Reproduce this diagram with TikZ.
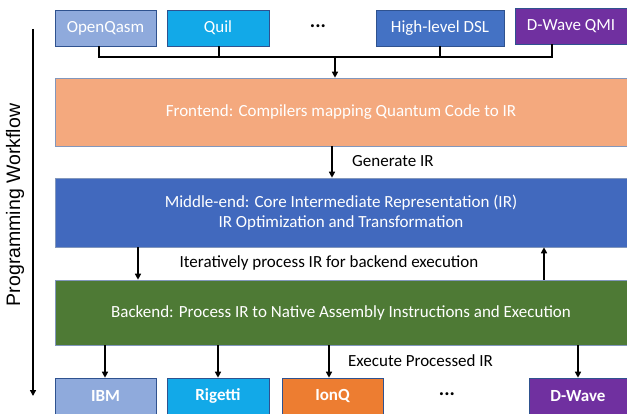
\documentclass[tikz,border=0pt]{standalone}
\usepackage{fontspec}
\setmainfont{Carlito}
\newfontfamily\wfont{Liberation Sans}
\usetikzlibrary{arrows.meta,calc}
\definecolor{cOQ}{HTML}{8FAADC}
\definecolor{cQuil}{HTML}{12A9E8}
\definecolor{cDSL}{HTML}{4472C4}
\definecolor{cDW}{HTML}{7030A0}
\definecolor{cFE}{HTML}{F4A97E}
\definecolor{cME}{HTML}{4169BE}
\definecolor{cBE}{HTML}{4E7A35}
\definecolor{cIonQ}{HTML}{ED7D31}
\definecolor{cEdge}{HTML}{2F528F}
\begin{document}
\begin{tikzpicture}[x=1pt,y=-1pt,
  box/.style={draw=cEdge,line width=0.6pt,text=white,font=\fontsize{17}{20}\selectfont,inner sep=0pt,minimum height=36pt},
  bbox/.style={box,font=\fontsize{17}{20}\selectfont\bfseries},
  big/.style={draw=cEdge!60,line width=0.6pt,text=white,font=\fontsize{17}{20}\selectfont,inner sep=0pt,align=center},
  lbl/.style={font=\fontsize{17}{20}\selectfont,text=black,inner sep=0pt},
  dots/.style={font=\fontsize{20}{20}\selectfont\bfseries,text=black,inner sep=0pt},
  wire/.style={line width=1.5pt,black},
  arr/.style={line width=1.5pt,black,-{Triangle[length=6pt,width=6pt]}}]
\useasboundingbox (0,0) rectangle (627,414);
\begin{scope}
\clip (0,0) rectangle (627,414);
% top row
\node[box,fill=cOQ,minimum width=101pt] (oq) at (105.5,28) {OpenQasm};
\node[box,fill=cQuil,minimum width=102pt] (qu) at (218,28) {Quil};
\node[dots] (tdots) at (318,26) {...};
\node[box,fill=cDSL,minimum width=128pt] (dsl) at (440,28) {High-level DSL};
\node[box,fill=cDW,minimum width=112pt] (dwq) at (571,26) {D-Wave QMI};
% big boxes
\node[big,fill=cFE,minimum width=572pt,minimum height=68pt] (fe) at (341,112) {Frontend: Compilers mapping Quantum Code to IR};
\node[big,fill=cME,minimum width=572pt,minimum height=69pt] (me) at (341,212.5) {Middle-end: Core Intermediate Representation (IR)\\IR Optimization and Transformation};
\node[big,fill=cBE,minimum width=572pt,minimum height=65pt] (be) at (341,312.5) {Backend: Process IR to Native Assembly Instructions and Execution};
% bottom row
\node[bbox,fill=cOQ,minimum width=101pt] (ibm) at (105.5,396) {IBM};
\node[bbox,fill=cQuil,minimum width=102pt] (rig) at (218,396) {Rigetti};
\node[bbox,fill=cIonQ,minimum width=101pt] (ionq) at (332.5,396) {IonQ};
\node[dots] (bdots) at (447,394) {...};
\node[bbox,fill=cDW,minimum width=98pt] (dwb) at (578,396) {D-Wave};
% top connectors
\coordinate (jr) at (552,57);
\coordinate (jm) at (335,57);
\draw[wire] ([xshift=-6.5pt]oq.south) |- (jr) -- (jr |- dwq.south);
\draw[wire] ([xshift=1pt]qu.south) -- ([xshift=1pt]qu.south |- jr);
\draw[wire] (dsl.south) -- (dsl.south |- jr);
\draw[arr] (jm) -- (jm |- fe.north);
% frontend to middle
\coordinate (g) at (332,0);
\draw[arr] (g |- fe.south) -- (g |- me.north);
\node[lbl,anchor=west] (gen) at (352,161) {Generate IR};
% middle to backend
\coordinate (d1) at (138,0);
\coordinate (u1) at (544,0);
\draw[arr] (d1 |- me.south) -- (d1 |- be.north);
\draw[arr] (u1 |- be.north) -- (u1 |- me.south);
\node[lbl] (iter) at (329,263) {Iteratively process IR for backend execution};
% backend to targets
\draw[arr] ([xshift=-0.5pt]ibm.north |- be.south) -- ([xshift=-0.5pt]ibm.north);
\draw[arr] (rig.north |- be.south) -- (rig.north);
\draw[arr] ([xshift=-3.5pt]ionq.north |- be.south) -- ([xshift=-3.5pt]ionq.north);
\draw[arr] (dwb.north |- be.south) -- (dwb.north);
\node[lbl,anchor=west] (exe) at (348,361) {Execute Processed IR};
\end{scope}
% workflow arrow
\coordinate (wa) at (33,29);
\coordinate (wb) at (33,396);
\draw[arr] (wa) -- (wb);
\node[lbl,rotate=90,font=\fontsize{19.5}{22}\wfont] (wf) at (15,205) {Programming Workflow};
\end{tikzpicture}
\end{document}
